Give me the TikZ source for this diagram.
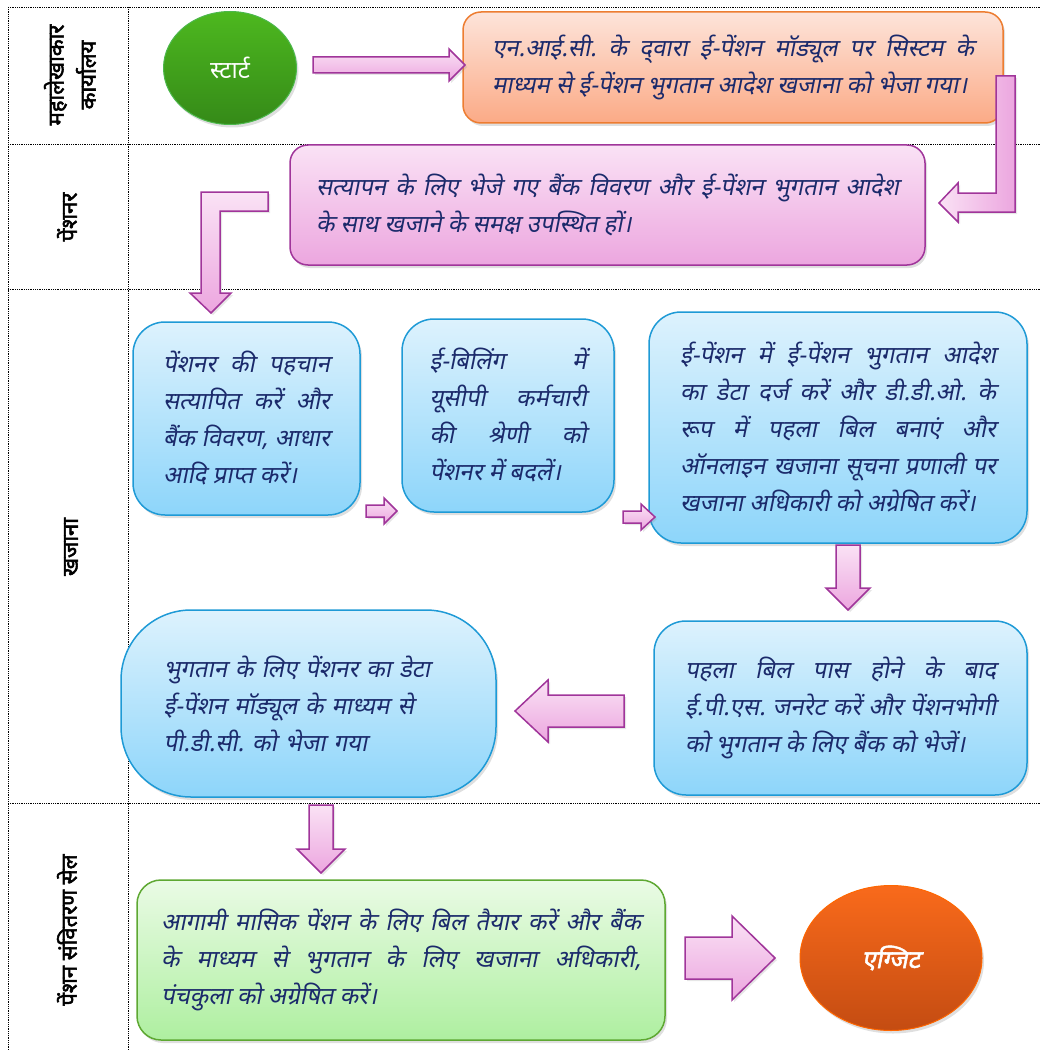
\documentclass[tikz,border=0pt]{standalone}
\usepackage{fontspec}
\newfontfamily\hindi[Script=Devanagari]{Noto Sans}
\newfontfamily\hindibold[Script=Devanagari,FakeBold=2.5]{Noto Sans}
\newfontfamily\hindiit[Script=Devanagari,FakeSlant=0.2]{Noto Sans}
\newfontfamily\hindiitbold[Script=Devanagari,FakeSlant=0.2,FakeBold=2]{Noto Sans}
\frenchspacing
\usepackage{tikz}
\usetikzlibrary{shapes}
\usetikzlibrary{shadows}
\usetikzlibrary{positioning}
\definecolor{navy}{HTML}{1B2A6B}
\definecolor{bluetop}{HTML}{DDF2FD}
\definecolor{bluebot}{HTML}{8DD5FA}
\definecolor{blueline}{HTML}{1E9AD6}
\definecolor{pinktop}{HTML}{FAE2F5}
\definecolor{pinkbot}{HTML}{ECA6DF}
\definecolor{pinkline}{HTML}{A0359A}
\definecolor{peachtop}{HTML}{FDE4DA}
\definecolor{peachbot}{HTML}{FBAA86}
\definecolor{peachline}{HTML}{ED7D31}
\definecolor{greentop}{HTML}{EAFBE5}
\definecolor{greenbot}{HTML}{AEEFA0}
\definecolor{greenline}{HTML}{5EA832}
\tikzstyle{lane}=[densely dotted, line width=0.8pt]
\tikzstyle{lanelabel}=[rotate=90, align=center, font=\hindibold\fontsize{22}{32}\selectfont]
\tikzstyle{stepbox}=[rectangle, rounded corners=18pt, line width=1.5pt, inner sep=0pt, text=navy, align=justify, font=\hindiit\fontsize{24}{37}\selectfont, drop shadow={shadow xshift=2pt, shadow yshift=-3pt, opacity=0.25}]
\tikzstyle{bluebox}=[stepbox, draw=blueline, top color=bluetop, bottom color=bluebot, rounded corners=32pt]
\tikzstyle{pinkbox}=[stepbox, draw=pinkline, top color=pinktop, bottom color=pinkbot]
\tikzstyle{peachbox}=[stepbox, draw=peachline, top color=peachtop, bottom color=peachbot]
\tikzstyle{greenbox}=[stepbox, draw=greenline, top color=greentop, bottom color=greenbot, rounded corners=24pt]
\tikzstyle{terminal}=[ellipse, line width=1pt, text=white, drop shadow={shadow xshift=2pt, shadow yshift=-3pt, opacity=0.25}]
\tikzstyle{blockarrow}=[draw=pinkline, line width=1.5pt, line join=miter, top color=pinktop, bottom color=pinkbot, drop shadow={shadow xshift=2pt, shadow yshift=-2pt, opacity=0.2}]

\begin{document}
\begin{tikzpicture}[x=1pt, y=-1pt]
        \useasboundingbox (0,0) rectangle (1040,1051);
        \draw[lane] (8,7) -- (1040,7);
        \draw[lane] (8,144) -- (1040,144);
        \draw[lane] (8,289) -- (1040,289);
        \draw[lane] (8,803) -- (1040,803);
        \draw[lane] (8,7) -- (8,1051);
        \draw[lane] (128,7) -- (128,1051);
        \node[lanelabel] at (70,75) (agoffice) {महालेखाकार\\कार्यालय};
        \node[lanelabel] at (67,217) (pensioner) {पेंशनर};
        \node[lanelabel] at (71,547) (treasury) {खजाना};
        \node[lanelabel] at (67,930) (disbcell) {पेंशन संवितरण सेल};
        \node[terminal, draw=green!60!black!70, top color={rgb,255:red,77;green,184;blue,31}, bottom color={rgb,255:red,53;green,138;blue,24}, minimum width=133pt, minimum height=113pt, font=\hindi\fontsize{24}{28}\selectfont] at (230,68) (start) {स्टार्ट};
        \node[peachbox, minimum width=540pt, minimum height=111pt, text width=482pt] at (733,67.5) (nic) {एन.आई.सी. के द्‌वारा ई-पेंशन मॉड्यूल पर सिस्टम के\linebreak माध्यम से ई-पेंशन भुगतान आदेश खजाना को भेजा गया।};
        \node[pinkbox, minimum width=635pt, minimum height=120pt, text width=583pt] at (607.5,205) (visit) {सत्यापन के लिए भेजे गए बैंक विवरण और ई-पेंशन भुगतान आदेश\linebreak के साथ खजाने के समक्ष उपस्थित हों।};
        \node[bluebox, minimum width=227pt, minimum height=193pt, text width=167pt] at (246.5,418.5) (verify) {पेंशनर की पहचान\linebreak सत्यापित करें और\linebreak बैंक विवरण, आधार\linebreak आदि प्राप्त करें।};
        \node[bluebox, minimum width=212pt, minimum height=193pt, text width=157pt] at (508,415.5) (ebill) {ई-बिलिंग में\linebreak यूसीपी कर्मचारी\linebreak की श्रेणी को\linebreak पेंशनर में बदलें।};
        \node[bluebox, minimum width=378pt, minimum height=231pt, text width=316pt] at (838,427.5) (firstbill) {ई-पेंशन में ई-पेंशन भुगतान आदेश\linebreak का डेटा दर्ज करें और डी.डी.ओ. के\linebreak रूप में पहला बिल बनाएं और\linebreak ऑनलाइन खजाना सूचना प्रणाली पर\linebreak खजाना अधिकारी को अग्रेषित करें।};
        \node[bluebox, minimum width=373pt, minimum height=174pt, text width=311pt] at (840.5,708) (eps) {पहला बिल पास होने के बाद\linebreak ई.पी.एस. जनरेट करें और पेंशनभोगी\linebreak को भुगतान के लिए बैंक को भेजें।};
        \node[bluebox, rounded corners=70pt, align=left, minimum width=375pt, minimum height=187pt, text width=290pt] at (308.5,703.5) (pdc) {भुगतान के लिए पेंशनर का डेटा\\ ई-पेंशन मॉड्यूल के माध्यम से\\ पी.डी.सी. को भेजा गया};
        \node[greenbox, minimum width=528pt, minimum height=160pt, text width=480pt] at (401,960) (monthly) {आगामी मासिक पेंशन के लिए बिल तैयार करें और बैंक\linebreak के माध्यम से भुगतान के लिए खजाना अधिकारी,\linebreak पंचकुला को अग्रेषित करें।};
        \node[terminal, draw=orange!80!red, top color={rgb,255:red,249;green,106;blue,27}, bottom color={rgb,255:red,196;green,76;blue,18}, minimum width=182pt, minimum height=145pt, font=\hindiitbold\fontsize{25}{28}\selectfont] at (891,958) (exit) {एग्जिट};
        \draw[blockarrow] (313,57) -- (449,57) -- (449,49) -- (465,65) -- (449,81) -- (449,73) -- (313,73) -- cycle;
        \draw[blockarrow, left color=pinktop, right color=pinkbot] (996,76) -- (1015,76) -- (1015,212) -- (958,212) -- (958,222) -- (939,203) -- (958,183) -- (958,193) -- (996,193) -- cycle;
        \draw[blockarrow] (268,192) -- (268,211) -- (220,211) -- (220,293) -- (231,293) -- (211,313) -- (190,293) -- (201,293) -- (201,192) -- cycle;
        \draw[blockarrow] (366,505) -- (384,505) -- (384,498) -- (397,511) -- (384,524) -- (384,517) -- (366,517) -- cycle;
        \draw[blockarrow] (623,511) -- (641,511) -- (641,504) -- (655,517) -- (641,530) -- (641,523) -- (623,523) -- cycle;
        \draw[blockarrow] (836,545) -- (860,545) -- (860,588) -- (870,588) -- (848,610) -- (826,588) -- (836,588) -- cycle;
        \draw[blockarrow] (624,695) -- (548,695) -- (548,680) -- (515,711) -- (548,742) -- (548,727) -- (624,727) -- cycle;
        \draw[blockarrow] (309,805) -- (333,805) -- (333,849) -- (345,849) -- (321,873) -- (297,849) -- (309,849) -- cycle;
        \draw[blockarrow] (685,937) -- (732,937) -- (732,916) -- (775,958) -- (732,1000) -- (732,979) -- (685,979) -- cycle;
      \end{tikzpicture}
\end{document}
